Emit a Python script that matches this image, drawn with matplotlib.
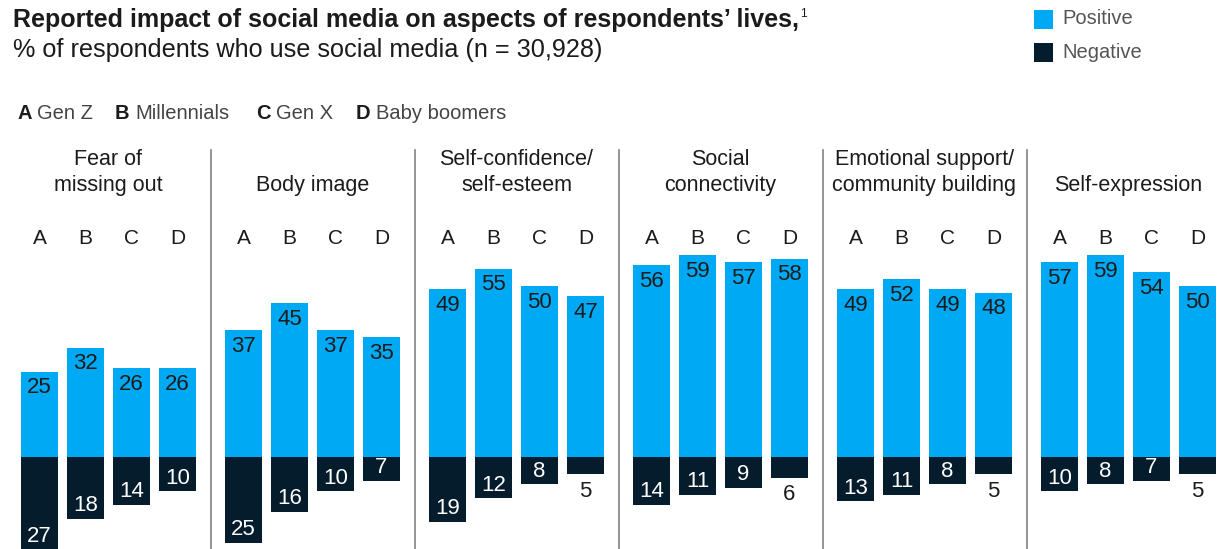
import matplotlib.pyplot as plt

plt.rcParams['font.family'] = ['Liberation Sans', 'DejaVu Sans']

BLUE = '#00a9f4'
NAVY = '#051c2c'
TXT = '#1b1b1b'

panels = ["Fear of\nmissing out", "Body image", "Self-confidence/\nself-esteem",
          "Social\nconnectivity", "Emotional support/\ncommunity building", "Self-expression"]
gens = ["A", "B", "C", "D"]
gen_names = ["Gen Z", "Millennials", "Gen X", "Baby boomers"]
positive = [[25, 32, 26, 26],
            [37, 45, 37, 35],
            [49, 55, 50, 47],
            [56, 59, 57, 58],
            [49, 52, 49, 48],
            [57, 59, 54, 50]]
negative = [[27, 18, 14, 10],
            [25, 16, 10, 7],
            [19, 12, 8, 5],
            [14, 11, 9, 6],
            [13, 11, 8, 5],
            [10, 8, 7, 5]]

W, H = 1224, 549
fig = plt.figure(figsize=(W / 100, H / 100), dpi=100)
ax = fig.add_axes([0, 0, 1, 1])

# 1 x unit = 46 px (bar pitch), 1 y unit = 3.42 px, baseline 92 px from bottom
PX = 46.0
PY = 3.42
gap = 204 / PX
ax.set_xlim(-39.5 / PX, (W - 39.5) / PX)
ax.set_ylim(-92 / PY, (H - 92) / PY)
ax.axis('off')

pt = 0.72  # points per pixel at dpi 100

for i, name in enumerate(panels):
    xs = [i * gap + j for j in range(4)]
    ax.bar(xs, positive[i], width=0.8, color=BLUE, linewidth=0)
    ax.bar(xs, [-v for v in negative[i]], width=0.8, color=NAVY, linewidth=0)

    for x, p, n, g in zip(xs, positive[i], negative[i], gens):
        ax.annotate(str(p), (x, p), xytext=(0, -16 * pt), textcoords='offset points',
                    ha='center', va='center', fontsize=16, color=TXT)
        if n >= 7:
            ax.annotate(str(n), (x, -n), xytext=(0, 13 * pt), textcoords='offset points',
                        ha='center', va='center', fontsize=16, color='white')
        else:
            ax.annotate(str(n), (x, -n), xytext=(0, -17 * pt), textcoords='offset points',
                        ha='center', va='center', fontsize=16, color=TXT)
        ax.text(x, (H - 244 - 92) / PY, g, ha='center', va='baseline', fontsize=15, color=TXT)

    # panel title, bottom-aligned lines
    cx = i * gap + 1.5
    lines = name.split('\n')
    for k, line in enumerate(reversed(lines)):
        ax.text(cx, (H - 191 - 92 + 26 * k) / PY, line, ha='center', va='baseline',
                fontsize=15.5, color=TXT)

    if i < len(panels) - 1:
        ax.axvline(i * gap + (3 + gap) / 2, ymin=0, ymax=(H - 150) / H,
                   color='#808080', linewidth=1.2)

# titles
title = fig.text(13 / W, 1 - 27 / H, "Reported impact of social media on aspects of respondents\u2019 lives,",
                 fontsize=18, fontweight='bold', color=TXT, va='baseline')
ax.annotate("1", xy=(1, 1), xycoords=title, xytext=(1, 0), textcoords='offset points',
            va='top', ha='left', fontsize=8.5, color=TXT)
fig.text(13 / W, 1 - 57 / H, "% of respondents who use social media (n = 30,928)",
         fontsize=18.2, color=TXT, va='baseline')

# generation key
key_x = [17, 115, 256, 356]
for kx, g, nm in zip(key_x, gens, gen_names):
    fig.text(kx / W, 1 - 119 / H, g, fontsize=14.5, fontweight='bold', color=TXT, va='baseline')
    fig.text((kx + 20) / W, 1 - 119 / H, nm, fontsize=14.5, color='#444444', va='baseline')

# legend
for yc, lab, col in [(19, "Positive", BLUE), (53, "Negative", NAVY)]:
    fig.patches.append(plt.Rectangle((1034 / W, 1 - (yc + 9.5) / H), 19 / W, 19 / H,
                                     transform=fig.transFigure, color=col, linewidth=0))
    fig.text(1062 / W, 1 - yc / H, lab, fontsize=14.5, color='#555555', va='center')

fig.savefig('out.png', dpi=100)
